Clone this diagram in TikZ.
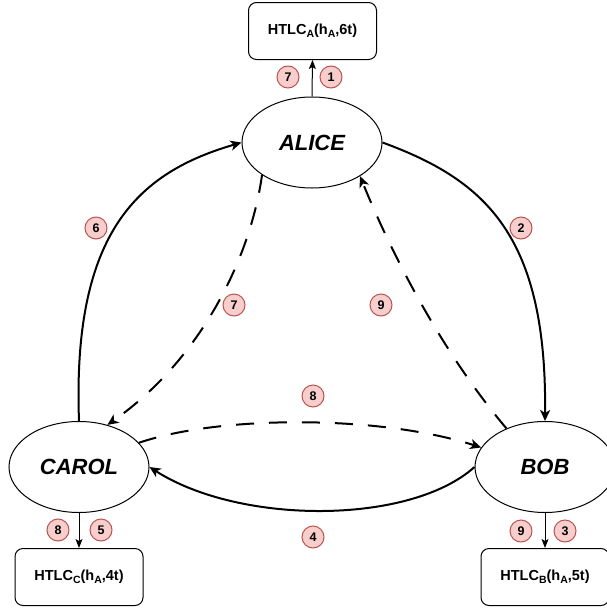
\documentclass[tikz,border=0pt]{standalone}
\usepackage{fontspec}
\setmainfont{Liberation Sans}
\usetikzlibrary{arrows.meta,shapes.geometric}
\definecolor{badgefill}{HTML}{F8CECC}
\definecolor{badgeline}{HTML}{B85450}
\newcommand\sbs[1]{\raisebox{-0.35ex}{\fontsize{10.5}{10.5}\selectfont #1}}
\begin{document}
\begin{tikzpicture}[x=1pt,y=-1pt,
  party/.style={ellipse, draw, line width=1pt, minimum width=140pt, minimum height=91pt, inner sep=0pt, font=\fontsize{22}{22}\selectfont\bfseries\itshape},
  htlc/.style={draw, rounded corners=8pt, line width=1pt, minimum width=128pt, minimum height=57pt, inner sep=0pt, font=\fontsize{14.5}{15}\selectfont\bfseries},
  badge/.style={circle, draw=badgeline, fill=badgefill, line width=1pt, minimum size=22pt, inner sep=0pt, font=\fontsize{12.5}{13}\selectfont\bfseries},
  flow/.style={line width=2pt, -{Stealth[length=11pt,width=10pt,inset=3pt]}},
  ret/.style={flow, dash pattern=on 18pt off 15pt},
  lock/.style={line width=1pt, -{Stealth[length=9pt,width=7pt,inset=2pt]}}]
\useasboundingbox (0,0) rectangle (606,608);

\node[party] (alice) at (312,142.5) {ALICE};
\node[party] (carol) at (79,467) {CAROL};
\node[party] (bob) at (545,467) {BOB};

\node[htlc] (ha) at (312.5,31) {HTLC\sbs{A}(h\sbs{A},6t)};
\node[htlc] (hc) at (79,577) {HTLC\sbs{C}(h\sbs{A},4t)};
\node[htlc] (hb) at (545,577) {HTLC\sbs{B}(h\sbs{A},5t)};

\draw[lock] (alice.north) -- (ha.south);
\draw[lock] (carol.south) -- (hc.north);
\draw[lock] (bob.south) -- (hb.north);

\draw[flow] (alice.east) .. controls (485,180) and (547,235) .. (bob.north);
\draw[flow] (carol.north) .. controls (72,230) and (140,172) .. (alice.west);
\draw[flow] (bob.west) .. controls (410,525) and (240,525) .. (carol.east);
\draw[ret] (carol.22) .. controls (220,415) and (380,415) .. (bob.163);
\draw[ret] (alice.213) .. controls (250,260) and (200,360) .. (carol.56);
\draw[ret] (bob.135) .. controls (440,350) and (390,250) .. (alice.-35);

\node[badge] (n7a) at (288,77) {7};
\node[badge] (n1) at (331,77) {1};
\node[badge] (n2) at (521,228) {2};
\node[badge] (n6) at (96,228) {6};
\node[badge] (n7b) at (234,305) {7};
\node[badge] (n9a) at (381,305) {9};
\node[badge] (n8a) at (313,396) {8};
\node[badge] (n4) at (313,537) {4};
\node[badge] (n8b) at (58,530) {8};
\node[badge] (n5) at (101,530) {5};
\node[badge] (n9b) at (521,531) {9};
\node[badge] (n3) at (565,531) {3};
\end{tikzpicture}
\end{document}
